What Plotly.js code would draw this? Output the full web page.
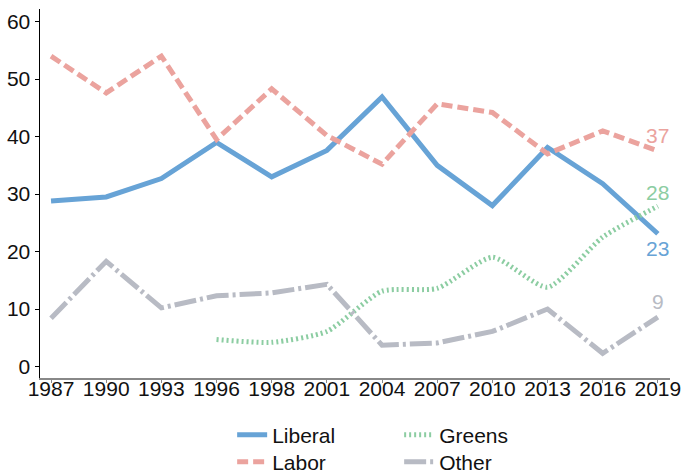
<!DOCTYPE html>
<html>
<head>
<meta charset="utf-8">
<script src="https://cdn.plot.ly/plotly-3.0.1.min.js"></script>
<style>html,body{margin:0;padding:0;background:#fff;}#chart{width:699px;height:475px;}</style>
</head>
<body>
<div id="chart"></div>
<script>
const years = ["1987","1990","1993","1996","1998","2001","2004","2007","2010","2013","2016","2019"];
const liberal = [28.8, 29.5, 32.7, 39.0, 33.0, 37.6, 46.9, 35.0, 28.0, 38.1, 31.8, 23.1];
const labor   = [54.0, 47.6, 54.0, 39.5, 48.3, 40.2, 35.2, 45.7, 44.2, 37.0, 41.0, 37.5];
const greensYears = ["1996","1998","2001","2004","2007","2010","2013","2016","2019"];
const greens  = [4.7, 4.2, 6.1, 13.1, 13.6, 19.0, 13.8, 22.5, 27.9];
const other   = [8.4, 18.3, 10.2, 12.3, 12.8, 14.3, 3.7, 4.1, 6.1, 10.0, 2.3, 8.6];
const endLabels = ["23", "37", "28", "9"];

const cLib = "#67a3d6", cLab = "#eba39e", cGre = "#8ccda2", cOth = "#b8bbc4";
const font = "Liberation Sans, Arial, sans-serif";

const data = [
  {x: years, y: liberal, name: "Liberal", mode: "lines", line: {color: cLib, width: 5}, legend: "legend"},
  {x: years, y: labor, name: "Labor", mode: "lines", line: {color: cLab, width: 5, dash: "11px,5px"}, legend: "legend2"},
  {x: greensYears, y: greens, name: "Greens", mode: "lines", line: {color: cGre, width: 5, dash: "2px,3px", shape: "spline", smoothing: 0.6}, legend: "legend"},
  {x: years, y: other, name: "Other", mode: "lines", line: {color: cOth, width: 5, dash: "22px,4px,3px,4px"}, legend: "legend2"}
];

const lastIdx = years.length - 1;
const annotations = [
  {y: liberal[lastIdx], text: endLabels[0], color: cLib, yshift: -15},
  {y: labor[lastIdx], text: endLabels[1], color: cLab, yshift: 15},
  {y: greens[greens.length-1], text: endLabels[2], color: cGre, yshift: 14},
  {y: other[lastIdx], text: endLabels[3], color: cOth, yshift: 16}
].map(a => ({x: lastIdx, y: a.y, text: a.text, yshift: a.yshift, showarrow: false,
             xanchor: "center", yanchor: "middle", xref: "x", yref: "y",
             font: {family: font, size: 21, color: a.color}}));

const legBase = {orientation: "h", xref: "paper", x: 0.305, xanchor: "left", yref: "container", yanchor: "middle",
                 entrywidth: 122, font: {size: 21, family: font, color: "#111"}, bgcolor: "rgba(0,0,0,0)"};

const layout = {
  width: 699, height: 475,
  margin: {l: 40, r: 29, t: 9, b: 97, autoexpand: false},
  paper_bgcolor: "#fff", plot_bgcolor: "#fff",
  font: {family: font, size: 21, color: "#111"},
  showlegend: true,
  legend: Object.assign({}, legBase, {y: 1 - 435/475}),
  legend2: Object.assign({}, legBase, {y: 1 - 462/475}),
  xaxis: {type: "category", range: [-0.2, 11.22], showgrid: false, zeroline: false,
          showline: true, linecolor: "#888", linewidth: 2, ticks: "outside", ticklen: 3, tickcolor: "#888",
          ticklabelstandoff: -12, tickfont: {size: 21}},
  yaxis: {range: [-2.0, 62.2], tickvals: [0,10,20,30,40,50,60], showgrid: false, zeroline: false,
          showline: true, linecolor: "#000", linewidth: 1.5, ticks: "outside", ticklen: 4, tickcolor: "#000",
          tickfont: {size: 21}},
  annotations: annotations
};

Plotly.newPlot("chart", data, layout, {displayModeBar: false, staticPlot: true});
</script>
</body>
</html>
